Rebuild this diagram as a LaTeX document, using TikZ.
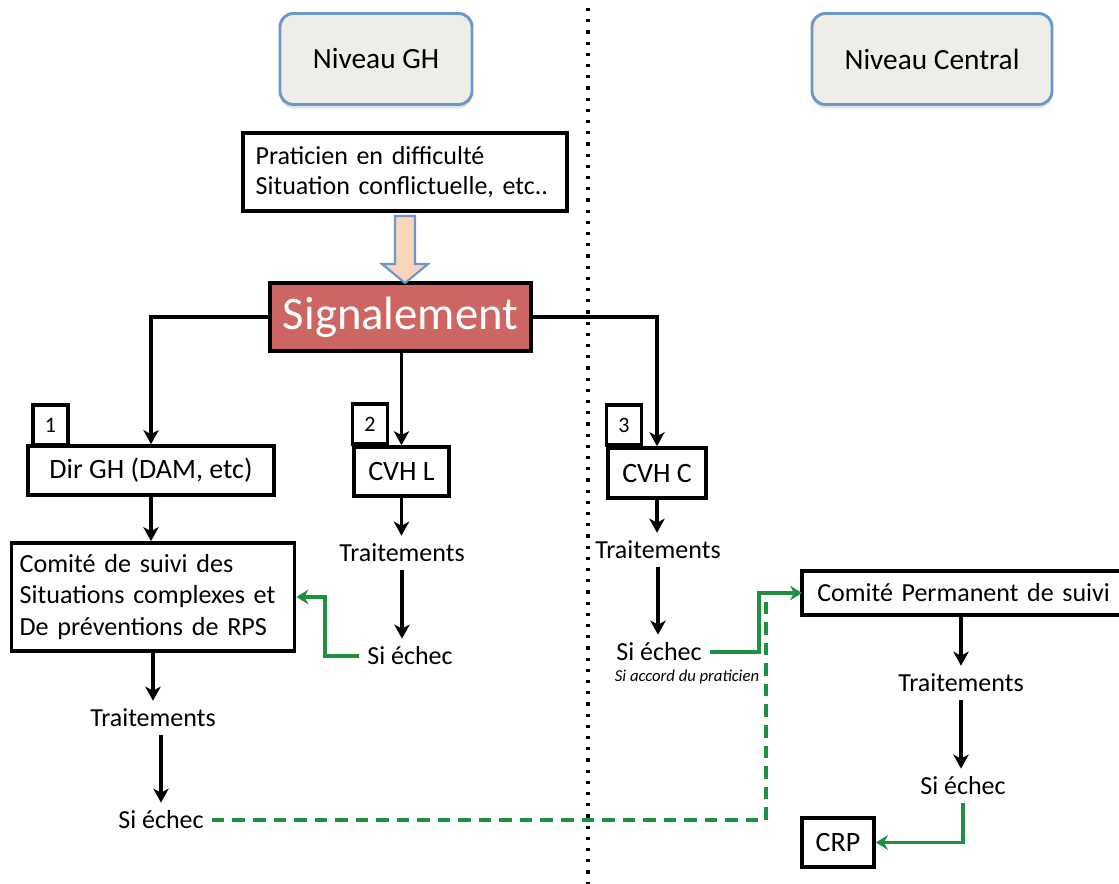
\documentclass[tikz,border=0pt]{standalone}
\usepackage{fontspec}
\setmainfont{Carlito}
\usetikzlibrary{arrows.meta,calc,shadows}
\definecolor{gborder}{HTML}{6A98CB}
\definecolor{gfill}{HTML}{EEEDE7}
\definecolor{sigred}{HTML}{CD6662}
\definecolor{peach}{HTML}{FAD5BC}
\definecolor{ggreen}{HTML}{1F9040}
\begin{document}
\begin{tikzpicture}[x=0.75pt,y=-0.75pt,
  level/.style={draw=gborder,line width=2.2pt,fill=gfill,rounded corners=10pt,minimum height=68.25pt,font=\fontsize{22}{26}\selectfont,drop shadow={opacity=0.2,shadow xshift=0pt,shadow yshift=-3pt}},
  box/.style={draw=black,line width=2.8pt,fill=white,inner sep=0pt},
  numbox/.style={box,minimum width=26.25pt,minimum height=30pt,font=\fontsize{16.5}{19}\selectfont},
  lbl/.style={inner sep=6pt,font=\fontsize{19.5}{23}\selectfont},
  arr/.style={line width=2.8pt,-{Stealth[length=10.5pt,width=11.5pt,inset=3pt]}},
  garr/.style={draw=ggreen,line width=2.8pt,-{Stealth[length=9pt,width=11pt,inset=3pt]}},
  gdash/.style={draw=ggreen,line width=3pt,dash pattern=on 9.4pt off 6pt}]
\useasboundingbox (0,0) rectangle (1119,883);
\clip (0,0) rectangle (1119,883);

% separator
\draw[line width=2.4pt,dash pattern=on 2.4pt off 6pt] (588,8) -- (588,890);

% level headers
\node[level,minimum width=144pt] (gh) at (376,59) {Niveau GH};
\node[level,minimum width=180pt] (central) at (932,59) {Niveau Central};

% boxes
\node[box,minimum width=243pt,minimum height=58.5pt,align=left,text width=224pt,font=\fontsize{19.5}{22.5}\selectfont] (prat) at (405,172) {Praticien en difficulté\\Situation conflictuelle, etc..};
\node[box,fill=sigred,text=white,minimum width=195.75pt,minimum height=51pt,font=\fontsize{35}{40}\selectfont] (sig) at (400.5,317) {Signalement};

\node[numbox] (n1) at (50.5,425) {1};
\node[numbox] (n2) at (370,424) {2};
\node[numbox] (n3) at (624,425) {3};

\node[box,minimum width=184.5pt,minimum height=36.75pt,font=\fontsize{21}{25}\selectfont] (dir) at (151,470.5) {Dir GH (DAM, etc)};
\node[box,minimum width=71.25pt,minimum height=36.75pt,font=\fontsize{21}{25}\selectfont] (cvhl) at (401.5,471.5) {CVH L};
\node[box,minimum width=73.5pt,minimum height=37.5pt,font=\fontsize{21}{25}\selectfont] (cvhc) at (657,473) {CVH C};

\node[box,minimum width=212.25pt,minimum height=81pt,align=left,text width=200pt,font=\fontsize{19.6}{23.6}\selectfont] (comite) at (153,597) {Comité de suivi des\\Situations complexes et\\De préventions de RPS};
\node[fill=white,inner sep=0pt,anchor=west,minimum width=300pt,minimum height=33pt,align=left,text width=277.5pt,font=\fontsize{19.5}{23}\selectfont] (comiteP) at (802,593) {Comité Permanent de suivi};
\draw[line width=2.8pt,line join=miter] (comiteP.north east) -- (comiteP.north west) -- (comiteP.south west) -- (comiteP.south east);
\node[box,minimum width=54pt,minimum height=36.75pt,font=\fontsize{21}{25}\selectfont] (crp) at (838,842.5) {CRP};

% labels
\node[lbl] (t1) at (153,718) {Traitements};
\node[lbl] (s1) at (161,820) {Si échec};
\node[lbl] (t2) at (402,553) {Traitements};
\node[lbl] (s2) at (410,656) {Si échec};
\node[lbl] (t3) at (658,550) {Traitements};
\node[lbl] (s3) at (659,652) {Si échec};
\node[inner sep=1pt,font=\fontsize{12.5}{15}\selectfont\itshape] (acc) at (687,677) {Si accord du praticien};
\node[lbl] (t4) at (961,683) {Traitements};
\node[lbl] (s4) at (963,786) {Si échec};

% block arrow
\draw[draw=gborder,fill=peach,line width=1.6pt,line join=miter] (395,216) -- (415,216) -- (415,264) -- (428,264) -- (405,283) -- (382,264) -- (395,264) -- cycle;

% black connectors
\draw[arr] (sig.west) -| (dir.north);
\draw[arr] (cvhl.north |- sig.south) -- (cvhl.north);
\draw[arr] (sig.east) -| (cvhc.north);
\draw[arr] (dir.south) -- (dir.south |- comite.north);
\draw[arr] (comite.south) -- (comite.south |- t1.north);
\draw[arr] (t1.south -| s1.north) -- (s1.north);
\draw[arr] (cvhl.south) -- (cvhl.south |- t2.north);
\draw[arr] (t2.south) -- (t2.south |- s2.north);
\draw[arr] (cvhc.south) -- (cvhc.south |- t3.north);
\draw[arr] (t3.south) -- (t3.south |- s3.north);
\draw[arr] (t4.north |- comiteP.south) -- (t4.north);
\draw[arr] (t4.south) -- (t4.south |- s4.north);

% green connectors
\draw[garr] (s2.west) -- ++(-34,0) |- (comite.east);
\draw[gdash] (s1.east) -| ($(comiteP.west)+(-36,0)$);
\draw[garr] (s3.east) -| ($(comiteP.west)+(-43,0)$) -- (comiteP.west);
\draw[garr] (s4.south) |- (crp.east);
\end{tikzpicture}
\end{document}
